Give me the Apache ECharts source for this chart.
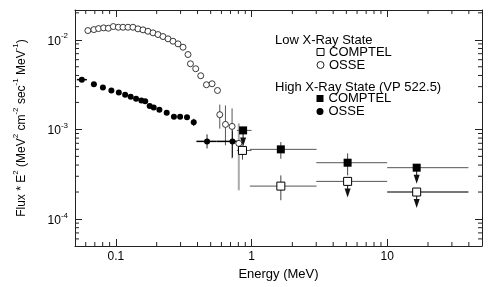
<!DOCTYPE html>
<html><head><meta charset="utf-8">
<script src="https://cdn.jsdelivr.net/npm/echarts@6/dist/echarts.min.js"></script>
<style>html,body{margin:0;padding:0;background:#fff}#c{width:491px;height:287px}</style>
</head><body><div id="c"></div>
<script>
// ---- axis ranges and ticks ----
const X_MIN = 0.05, X_MAX = 50, Y_MIN = 5e-5, Y_MAX = 2.15e-2;
const xTickLabels = ['0.1', '1', '10'];
const yTickExps = [-4, -3, -2];
const xMinorTicks = [0.06,0.07,0.08,0.09,0.2,0.3,0.4,0.5,0.6,0.7,0.8,0.9,2,3,4,5,6,7,8,9,20,30,40];
const yMinorTicks = [6e-5,7e-5,8e-5,9e-5,2e-4,3e-4,4e-4,5e-4,6e-4,7e-4,8e-4,9e-4,2e-3,3e-3,4e-3,5e-3,6e-3,7e-3,8e-3,9e-3,2e-2];

// ---- Low X-Ray State, OSSE (open circles) ----
const lowOsseE = [0.0622,0.0689,0.0746,0.0813,0.0881,0.0958,0.1043,0.1129,0.1228,0.1337,0.1456,0.1585,0.1725,0.1879,0.2045,0.2227,0.2424,0.2638,0.2872,0.3127,0.3404,0.3547,0.388,0.4224,0.4655,0.5121,0.5612,0.5835,0.6426,0.7191,0.806];
const lowOsseF = [0.01268,0.0130,0.01334,0.01358,0.01345,0.01405,0.0138,0.0138,0.0138,0.0138,0.01324,0.01291,0.01245,0.01195,0.01144,0.01087,0.01025,0.00964,0.00901,0.00826,0.00685,0.0054,0.00475,0.00397,0.00315,0.00323,0.00272,0.00146,0.001137,0.00108,0.000698];
const lowOsseErrE  = [0.5835, 0.6426, 0.7191];
const lowOsseErrF  = [0.00146, 0.001137, 0.00108];
const lowOsseErrLo = [0.00102, 0.000664, 0.000475];
const lowOsseErrHi = [0.00189, 0.00185, 0.001714];
const lowOsseWideE = [0.806], lowOsseWideF = [0.000698], lowOsseWideLo = [0.000209], lowOsseWideHi = [0.001166];

// ---- High X-Ray State, OSSE (filled circles) ----
const highOsseE = [0.0561,0.0689,0.0803,0.0927,0.1052,0.1171,0.1286,0.141,0.1542,0.1646,0.1776,0.1901,0.2094,0.2371,0.268,0.2977,0.3347,0.3751,0.4702,0.7241];
const highOsseF = [0.00359,0.0032,0.00294,0.00272,0.00258,0.00244,0.00231,0.0022,0.0021,0.00206,0.00183,0.00176,0.00166,0.00153,0.00138,0.00138,0.00137,0.0012,0.000735,0.000735];
const highOsseErrE  = [0.0561, 0.3751, 0.4702, 0.7241];
const highOsseErrF  = [0.00359, 0.0012, 0.000735, 0.000735];
const highOsseErrXlo = [0.0516, null, 0.3927, 0.5515];
const highOsseErrXhi = [0.0612, null, 0.5515, 0.8198];
const highOsseErrYlo = [null, 0.00109, 0.000614, 0.000488];
const highOsseErrYhi = [null, 0.001316, 0.00088, 0.000975];

// ---- High X-Ray State, COMPTEL (filled squares) ----
const highComptelE   = [0.867, 1.645, 5.11, 16.5];
const highComptelF   = [0.000975, 0.000599, 0.000425, 0.000374];
const highComptelXlo = [0.78, 0.972, 3.0, 10];
const highComptelXhi = [1.0, 3.018, 10, 39.7];
const highComptelYlo = [null, 0.000471, 0.000307, null];
const highComptelYhi = [null, 0.000722, 0.00054, null];
const highComptelUL  = [1, 0, 0, 1];

// ---- Low X-Ray State, COMPTEL (open squares) ----
const lowComptelE   = [0.858, 1.645, 5.11, 16.5];
const lowComptelF   = [0.000583, 0.000233, 0.000263, 0.0002];
const lowComptelXlo = [0.78, 0.972, 3.0, 10];
const lowComptelXhi = [1.0, 3.018, 10, 39.7];
const lowComptelYlo = [0.00046, 0.000162, null, null];
const lowComptelYhi = [0.00066, 0.000307, null, null];
const lowComptelUL  = [0, 0, 1, 1];

const FONT = "'Liberation Sans', Arial, Helvetica, sans-serif";

function pairs(E, F) { return E.map((e, i) => [e, F[i]]); }
function errData(E, F, xlo, xhi, ylo, yhi) {
  return E.map((e, i) => [e, F[i],
    xlo && xlo[i] != null ? xlo[i] : e, xhi && xhi[i] != null ? xhi[i] : e,
    ylo && ylo[i] != null ? ylo[i] : F[i], yhi && yhi[i] != null ? yhi[i] : F[i]]);
}
function errSeries(name, data, xStyle, yStyle, thickLast) {
  return {
    type: 'custom', name: name, silent: true, z: 2, data: data,
    renderItem: function (params, api) {
      const x = api.value(0), y = api.value(1);
      const xl = api.value(2), xh = api.value(3), yl = api.value(4), yh = api.value(5);
      const ch = [];
      if (xl !== xh) {
        const a = api.coord([xl, y]), b = api.coord([xh, y]);
        let st = xStyle;
        if (thickLast && params.dataIndex === data.length - 1) st = thickLast;
        ch.push({ type: 'line', shape: { x1: a[0], y1: a[1], x2: b[0], y2: b[1] }, style: st });
      }
      if (yl !== yh) {
        const a = api.coord([x, yl]), b = api.coord([x, yh]);
        ch.push({ type: 'line', shape: { x1: a[0], y1: a[1], x2: b[0], y2: b[1] }, style: yStyle });
      }
      return { type: 'group', children: ch };
    }
  };
}
function arrowSeries(name, E, F, UL) {
  const d = [];
  E.forEach((e, i) => { if (UL[i]) d.push([e, F[i]]); });
  return {
    type: 'custom', name: name, silent: true, z: 2, data: d,
    renderItem: function (params, api) {
      const c = api.coord([api.value(0), api.value(1)]);
      return { type: 'group', children: [
        { type: 'line', shape: { x1: c[0], y1: c[1], x2: c[0], y2: c[1] + 9 }, style: { stroke: '#111', lineWidth: 1 } },
        { type: 'polygon', shape: { points: [[c[0] - 3, c[1] + 7], [c[0] + 3, c[1] + 7], [c[0], c[1] + 16]] }, style: { fill: '#111' } }
      ]};
    }
  };
}
function minorX() {
  return {
    type: 'custom', silent: true, z: 5, data: xMinorTicks.map(v => [v, Y_MIN]),
    renderItem: function (params, api) {
      const v = api.value(0);
      const b = api.coord([v, Y_MIN]), t = api.coord([v, Y_MAX]);
      const st = { stroke: '#222', lineWidth: 1 };
      return { type: 'group', children: [
        { type: 'line', shape: { x1: b[0], y1: b[1], x2: b[0], y2: b[1] - 4 }, style: st },
        { type: 'line', shape: { x1: t[0], y1: t[1], x2: t[0], y2: t[1] + 4 }, style: st }
      ]};
    }
  };
}
function minorY() {
  return {
    type: 'custom', silent: true, z: 5, data: yMinorTicks.map(v => [X_MIN, v]),
    renderItem: function (params, api) {
      const v = api.value(1);
      const l = api.coord([X_MIN, v]), r = api.coord([X_MAX, v]);
      const st = { stroke: '#222', lineWidth: 1 };
      return { type: 'group', children: [
        { type: 'line', shape: { x1: l[0], y1: l[1], x2: l[0] + 4, y2: l[1] }, style: st },
        { type: 'line', shape: { x1: r[0], y1: r[1], x2: r[0] - 4, y2: r[1] }, style: st }
      ]};
    }
  };
}

const axisLineStyle = { lineStyle: { color: '#222', width: 1 } };
const tickStyle = { inside: true, length: 7, lineStyle: { color: '#222', width: 1 } };
const supRich = {
  b: { fontSize: 12, fontFamily: FONT, color: '#000', lineHeight: 15, verticalAlign: 'bottom' },
  s: { fontSize: 8, fontFamily: FONT, color: '#000', lineHeight: 15, verticalAlign: 'top' }
};
const nameRich = {
  b: { fontSize: 12, fontFamily: FONT, color: '#000', lineHeight: 16, verticalAlign: 'bottom' },
  s: { fontSize: 8, fontFamily: FONT, color: '#000', lineHeight: 16, verticalAlign: 'top' }
};
const legendCommon = {
  orient: 'vertical', left: 316.5, padding: 0,
  itemWidth: 7, itemHeight: 7, itemGap: 0, itemTextGap: 5, selectedMode: false,
  itemStyle: { borderWidth: 1 },
  formatter: n => n.replace(/ \(.*\)/, ''),
  textStyle: { fontSize: 13, lineHeight: 11, fontFamily: FONT, color: '#000' }
};

const chart = echarts.init(document.getElementById('c'), null, { renderer: 'canvas' });
chart.setOption({
  animation: false,
  backgroundColor: '#fff',
  grid: { left: 75, right: 9, top: 10, bottom: 41 },
  xAxis: [
    { type: 'log', logBase: 10, min: X_MIN, max: X_MAX, position: 'bottom',
      axisLine: axisLineStyle, axisTick: tickStyle, splitLine: { show: false },
      axisLabel: { margin: 5, showMinLabel: false, showMaxLabel: false, fontSize: 12, fontFamily: FONT, color: '#000',
        formatter: function (v) {
          const m = xTickLabels.find(s => Math.abs(Math.log10(parseFloat(s)) - Math.log10(v)) < 0.01);
          return m || '';
        } },
      name: 'Energy (MeV)', nameLocation: 'middle', nameGap: 22,
      nameTextStyle: { fontSize: 13, fontFamily: FONT, color: '#000' } },
    { type: 'log', logBase: 10, min: X_MIN, max: X_MAX, position: 'top',
      axisLine: axisLineStyle, axisTick: tickStyle, axisLabel: { show: false }, splitLine: { show: false } }
  ],
  yAxis: [
    { type: 'log', logBase: 10, min: Y_MIN, max: Y_MAX, position: 'left',
      axisLine: axisLineStyle, axisTick: tickStyle, splitLine: { show: false },
      axisLabel: { margin: 7, showMinLabel: false, showMaxLabel: false, rich: supRich,
        formatter: function (v) {
          const lg = Math.log10(v), ex = Math.round(lg);
          if (Math.abs(lg - ex) < 0.01 && yTickExps.indexOf(ex) >= 0) return '{b|10}{s|' + ex + '}';
          return '';
        } },
      name: '{b|Flux * E}{s|2}{b| (MeV}{s|2}{b| cm}{s|-2}{b| sec}{s|-1}{b| MeV}{s|-1}{b|)}',
      nameLocation: 'middle', nameGap: 47, nameRotate: 90,
      nameTextStyle: { rich: nameRich } },
    { type: 'log', logBase: 10, min: Y_MIN, max: Y_MAX, position: 'right',
      axisLine: axisLineStyle, axisTick: tickStyle, axisLabel: { show: false }, splitLine: { show: false } }
  ],
  legend: [
    Object.assign({ data: ['COMPTEL (Low)', 'OSSE (Low)'], top: 45.5 }, legendCommon),
    Object.assign({ data: ['COMPTEL (High)', 'OSSE (High)'], top: 92 }, legendCommon)
  ],
  graphic: [
    { type: 'text', left: 275, top: 34, style: { text: 'Low X-Ray State', fontSize: 13, fontFamily: FONT, fill: '#000' } },
    { type: 'text', left: 275, top: 81, style: { text: 'High X-Ray State (VP 522.5)', fontSize: 13, fontFamily: FONT, fill: '#000' } }
  ],
  series: [
    minorX(), minorY(),
    errSeries('lowOsseErr', errData(lowOsseErrE, lowOsseErrF, null, null, lowOsseErrLo, lowOsseErrHi),
      { stroke: '#555', lineWidth: 1 }, { stroke: '#555', lineWidth: 1 }),
    errSeries('lowOsseWide', errData(lowOsseWideE, lowOsseWideF, null, null, lowOsseWideLo, lowOsseWideHi),
      { stroke: '#aaa', lineWidth: 2 }, { stroke: '#aaa', lineWidth: 2 }),
    errSeries('highOsseErr', errData(highOsseErrE, highOsseErrF, highOsseErrXlo, highOsseErrXhi, highOsseErrYlo, highOsseErrYhi),
      { stroke: '#000', lineWidth: 1.5 }, { stroke: '#222', lineWidth: 1 }),
    errSeries('highComptelErr', errData(highComptelE, highComptelF, highComptelXlo, highComptelXhi, highComptelYlo, highComptelYhi),
      { stroke: '#555', lineWidth: 1 }, { stroke: '#444', lineWidth: 1 }),
    errSeries('lowComptelErr', errData(lowComptelE, lowComptelF, lowComptelXlo, lowComptelXhi, lowComptelYlo, lowComptelYhi),
      { stroke: '#555', lineWidth: 1 }, { stroke: '#444', lineWidth: 1 }, { stroke: '#777', lineWidth: 2 }),
    arrowSeries('highComptelUL', highComptelE, highComptelF, highComptelUL),
    arrowSeries('lowComptelUL', lowComptelE, lowComptelF, lowComptelUL),
    { type: 'scatter', name: 'OSSE (Low)', z: 3, data: pairs(lowOsseE, lowOsseF), symbol: 'circle', symbolSize: 6,
      itemStyle: { color: '#fff', borderColor: '#222', borderWidth: 0.9, opacity: 1 } },
    { type: 'scatter', name: 'OSSE (High)', z: 3, data: pairs(highOsseE, highOsseF), symbol: 'circle', symbolSize: 6,
      itemStyle: { color: '#000', opacity: 1 } },
    { type: 'scatter', name: 'COMPTEL (Low)', z: 4, data: pairs(lowComptelE, lowComptelF), symbol: 'rect', symbolSize: 8,
      itemStyle: { color: '#fff', borderColor: '#000', borderWidth: 1, opacity: 1 } },
    { type: 'scatter', name: 'COMPTEL (High)', z: 4, data: pairs(highComptelE, highComptelF), symbol: 'rect', symbolSize: 8,
      itemStyle: { color: '#000', opacity: 1 } }
  ]
});
</script></body></html>
